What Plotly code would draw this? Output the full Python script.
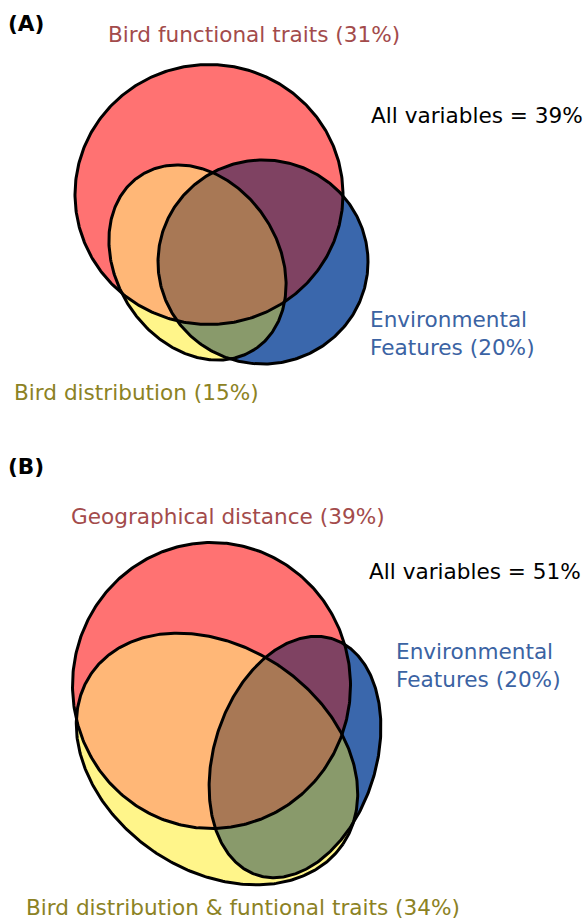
import numpy as np
import plotly.graph_objects as go

# ---------------- data ----------------
panel_tags = ["(A)", "(B)"]
set_names_A = ["Bird functional traits", "Environmental<br>Features", "Bird distribution"]
set_pcts_A = [31, 20, 15]
total_A = 39
set_names_B = ["Geographical distance", "Environmental<br>Features", "Bird distribution & funtional traits"]
set_pcts_B = [39, 20, 34]
total_B = 51

# ---------------- geometry (pixel units) ----------------
# ellipse: (cx, cy, a, b, angle_deg)
geom_A = {
    "red": (209, 194.5, 134, 130, 0),
    "yellow": (197.5, 262.5, 104, 81, 56.6),
    "blue": (263, 262, 105, 102, 0),
}
geom_B = {
    "red": (211.5, 685.5, 139, 143, 0),
    "yellow": (217, 759, 152, 112, 34),
    "blue": (295, 757, 124, 81, -72.3),
}

COL = {
    "red": "#FF7272", "yellow": "#FFF58A", "blue": "#3A67AC",
    "ry": "#FFB777", "rb": "#7F4262", "yb": "#899A6B", "ryb": "#A87855",
}
TXT_RED = "#A34B4B"
TXT_BLUE = "#3B63A3"
TXT_OLIVE = "#8C8224"
FONT = "DejaVu Sans"
FS = 21.6


def ellipse(cx, cy, a, b, ang, n=400):
    t = np.linspace(0, 2 * np.pi, n, endpoint=False)
    p = np.deg2rad(ang)
    x = cx + a * np.cos(t) * np.cos(p) - b * np.sin(t) * np.sin(p)
    y = cy + a * np.cos(t) * np.sin(p) + b * np.sin(t) * np.cos(p)
    return list(zip(x, y))


def area_sign(poly):
    s = 0.0
    for i in range(len(poly)):
        x1, y1 = poly[i]
        x2, y2 = poly[(i + 1) % len(poly)]
        s += x1 * y2 - x2 * y1
    return 1 if s > 0 else -1


def clip(subject, clipper):
    sg = area_sign(clipper)
    out = subject
    n = len(clipper)
    for i in range(n):
        ax, ay = clipper[i]
        bx, by = clipper[(i + 1) % n]

        def inside(p):
            return sg * ((bx - ax) * (p[1] - ay) - (by - ay) * (p[0] - ax)) >= 0

        def inter(p, q):
            dx1, dy1 = q[0] - p[0], q[1] - p[1]
            dx2, dy2 = bx - ax, by - ay
            den = dx1 * dy2 - dy1 * dx2
            if den == 0:
                return p
            tt = ((ax - p[0]) * dy2 - (ay - p[1]) * dx2) / den
            return (p[0] + tt * dx1, p[1] + tt * dy1)

        inp = out
        out = []
        if not inp:
            break
        prev = inp[-1]
        for cur in inp:
            if inside(cur):
                if not inside(prev):
                    out.append(inter(prev, cur))
                out.append(cur)
            elif inside(prev):
                out.append(inter(prev, cur))
            prev = cur
    return out


fig = go.Figure()


def add_fill(poly, color):
    if not poly:
        return
    xs = [p[0] for p in poly] + [poly[0][0]]
    ys = [p[1] for p in poly] + [poly[0][1]]
    fig.add_trace(go.Scatter(x=xs, y=ys, mode="lines", fill="toself", fillcolor=color,
                             line=dict(width=0, color=color), hoverinfo="skip", showlegend=False))


def add_outline(poly):
    xs = [p[0] for p in poly] + [poly[0][0]]
    ys = [p[1] for p in poly] + [poly[0][1]]
    fig.add_trace(go.Scatter(x=xs, y=ys, mode="lines", line=dict(width=3, color="black"),
                             hoverinfo="skip", showlegend=False))


def draw_venn(geom):
    R = ellipse(*geom["red"])
    Y = ellipse(*geom["yellow"])
    B = ellipse(*geom["blue"])
    add_fill(Y, COL["yellow"])
    add_fill(B, COL["blue"])
    add_fill(R, COL["red"])
    RY = clip(R, Y)
    RB = clip(R, B)
    YB = clip(Y, B)
    add_fill(RY, COL["ry"])
    add_fill(RB, COL["rb"])
    add_fill(YB, COL["yb"])
    add_fill(clip(RY, B), COL["ryb"])
    for P in (R, Y, B):
        add_outline(P)


draw_venn(geom_A)
draw_venn(geom_B)


def label(x, y, text, color, bold=False):
    fig.add_annotation(x=x, y=y, xref="x", yref="y", text=f"<b>{text}</b>" if bold else text,
                       showarrow=False, xanchor="left", yanchor="middle", align="left",
                       font=dict(family=FONT, size=FS, color=color))


label(6, 23, panel_tags[0], "black", bold=True)
label(106, 34, f"{set_names_A[0]} ({set_pcts_A[0]}%)", TXT_RED)
label(369, 115, f"All variables = {total_A}%", "black")
label(368, 333, f"{set_names_A[1]} ({set_pcts_A[1]}%)", TXT_BLUE)
label(12, 392, f"{set_names_A[2]} ({set_pcts_A[2]}%)", TXT_OLIVE)

label(6, 466, panel_tags[1], "black", bold=True)
label(69, 516, f"{set_names_B[0]} ({set_pcts_B[0]}%)", TXT_RED)
label(367, 571, f"All variables = {total_B}%", "black")
label(394, 665, f"{set_names_B[1]} ({set_pcts_B[1]}%)", TXT_BLUE)
label(24, 907, f"{set_names_B[2]} ({set_pcts_B[2]}%)", TXT_OLIVE)

fig.update_layout(
    width=583, height=919, margin=dict(l=0, r=0, t=0, b=0),
    paper_bgcolor="white", plot_bgcolor="white", showlegend=False,
    xaxis=dict(range=[0, 583], visible=False, fixedrange=True),
    yaxis=dict(range=[919, 0], visible=False, fixedrange=True),
)

fig.write_html("out.html", config={"displayModeBar": False},
               post_script="document.body.style.margin='0';document.body.style.overflow='hidden';")
